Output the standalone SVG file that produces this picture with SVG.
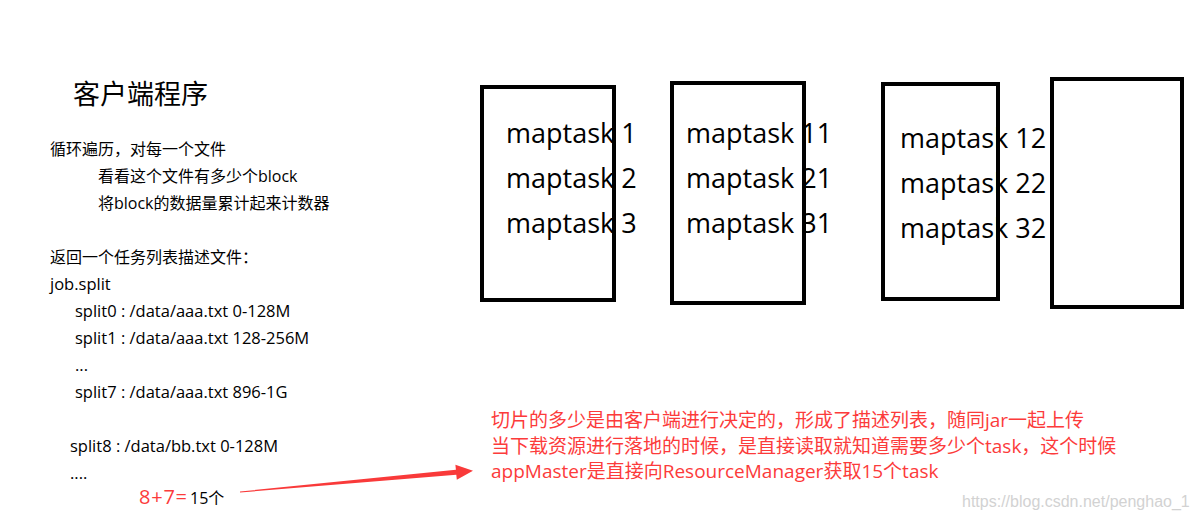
<svg xmlns="http://www.w3.org/2000/svg" width="1199" height="521" viewBox="0 0 1199 521">
<style>
  text { font-family: "Open Sans", "Noto Sans CJK SC", sans-serif; fill: #000; }
  .title { font-size: 27px; }
  .body { font-size: 16px; }
  .lat { font-size: 16.5px; }
  .task { font-size: 27px; }
  .red { fill: #fc3b3b; font-size: 19px; }
  .box { fill: none; stroke: #000; stroke-width: 4; }
  .wm { fill: #d2d2d2; font-family: "Liberation Sans", Arial, sans-serif; font-size: 16px; }
</style>
<rect width="1199" height="521" fill="#fff"/>
<g id="client">
  <text class="title" x="73" y="104">客户端程序</text>
  <text class="body" x="50" y="155">循环遍历，对每一个文件</text>
  <text class="body" x="98" y="182">看看这个文件有多少个block</text>
  <text class="body" x="98" y="209">将block的数据量累计起来计数器</text>
  <text class="body" x="50" y="263">返回一个任务列表描述文件：</text>
  <text class="lat" x="50" y="290">job.split</text>
  <text class="lat" x="75" y="317">split0 : /data/aaa.txt 0-128M</text>
  <text class="lat" x="75" y="344">split1 : /data/aaa.txt 128-256M</text>
  <text class="lat" x="75" y="371">...</text>
  <text class="lat" x="75" y="398">split7 : /data/aaa.txt 896-1G</text>
  <text class="lat" x="70" y="452">split8 : /data/bb.txt 0-128M</text>
  <text class="lat" x="70" y="479">....</text>
  <text x="139" y="504" style="font-size:20px;fill:#fc3b3b" textLength="48" lengthAdjust="spacing">8+7=</text>
  <text class="body" x="190" y="504">15个</text>
</g>
<g id="box1">
  <rect class="box" x="482" y="87" width="132" height="213"/>
  <text class="task" x="506" y="143">maptask 1</text>
  <text class="task" x="506" y="188">maptask 2</text>
  <text class="task" x="506" y="233">maptask 3</text>
</g>
<g id="box2">
  <rect class="box" x="672" y="83" width="132" height="220"/>
  <text class="task" x="686" y="143">maptask 11</text>
  <text class="task" x="686" y="188">maptask 21</text>
  <text class="task" x="686" y="233">maptask 31</text>
</g>
<g id="box3">
  <rect class="box" x="883" y="84" width="115" height="215"/>
  <text class="task" x="900" y="148">maptask 12</text>
  <text class="task" x="900" y="193">maptask 22</text>
  <text class="task" x="900" y="238">maptask 32</text>
</g>
<g id="box4">
  <rect class="box" x="1052" y="79" width="130" height="228"/>
</g>
<g id="note">
  <text class="red" x="491" y="427">切片的多少是由客户端进行决定的，形成了描述列表，随同jar一起上传</text>
  <text class="red" x="491" y="453">当下载资源进行落地的时候，是直接读取就知道需要多少个task，这个时候</text>
  <text class="red" x="491" y="478">appMaster是直接向ResourceManager获取15个task</text>
</g>
<g id="connectors">
  <polygon fill="#f93a3a" points="240,491.5 455.9,469.7 455.4,464.7 473,470.7 456.8,479.7 456.3,474.7 240,492.5"/>
</g>
<text class="wm" x="962" y="507">https://blog.csdn.net/penghao_1</text>
</svg>
